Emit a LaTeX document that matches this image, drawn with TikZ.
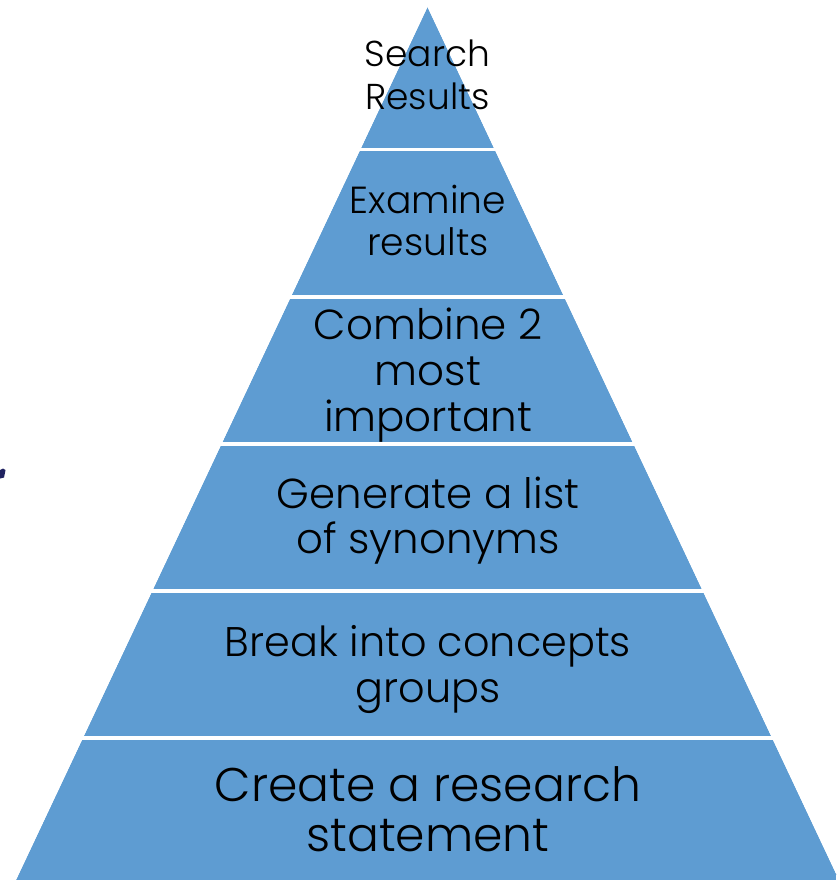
\documentclass[tikz,border=0pt]{standalone}
\usepackage{fontspec}
\setmainfont{Poppins}[UprightFont=*-Light]
\definecolor{pyr}{RGB}{94,156,210}
\definecolor{navy}{RGB}{32,34,96}
\begin{document}
\begin{tikzpicture}[x=1pt,y=-1pt,
  gapline/.style={white,line width=3.6pt},
  lbl/.style={anchor=base,align=center,inner sep=0pt,text=black}]
\useasboundingbox (0,0) rectangle (836,880);
% pyramid
\coordinate (apex) at (427.5,7);
\coordinate (bl) at (16,880);
\coordinate (br) at (839,880);
\fill[pyr] (apex) -- (br) -- (bl) -- cycle;
% band separators
\foreach \yy in {149.5,296.8,444,591.2,738} {
  \draw[gapline] (0,\yy) -- (836,\yy);
}
\fill[white] (0,0) -- (apex) -- (bl) -- (0,880) -- cycle;
\fill[white] (836,0) -- (apex) -- (br) -- (836,880) -- cycle;
% small mark on left
\fill[navy] (0,470) -- (3,468.5) -- (5.5,470) -- (4,477.5) -- (0,478.5) -- cycle;
% labels (anchor at baseline of last line)
\node[lbl,font=\fontsize{36}{43}\selectfont] (t1) at (427.5,110) {Search\\Results};
\node[lbl,font=\fontsize{37.7}{42}\selectfont] (t2) at (428,255) {Examine\\results};
\node[lbl,font=\fontsize{42}{46}\selectfont] (t3) at (428,431.7) {Combine 2\\most\\important};
\node[lbl,font=\fontsize{41.9}{45}\selectfont] (t4) at (428,553.3) {Generate a list\\of synonyms};
\node[lbl,font=\fontsize{41.4}{46}\selectfont] (t5) at (428,702.7) {Break into concepts\\groups};
\node[lbl,font=\fontsize{47.2}{50}\selectfont] (t6) at (428,851.7) {Create a research\\statement};
\end{tikzpicture}
\end{document}
